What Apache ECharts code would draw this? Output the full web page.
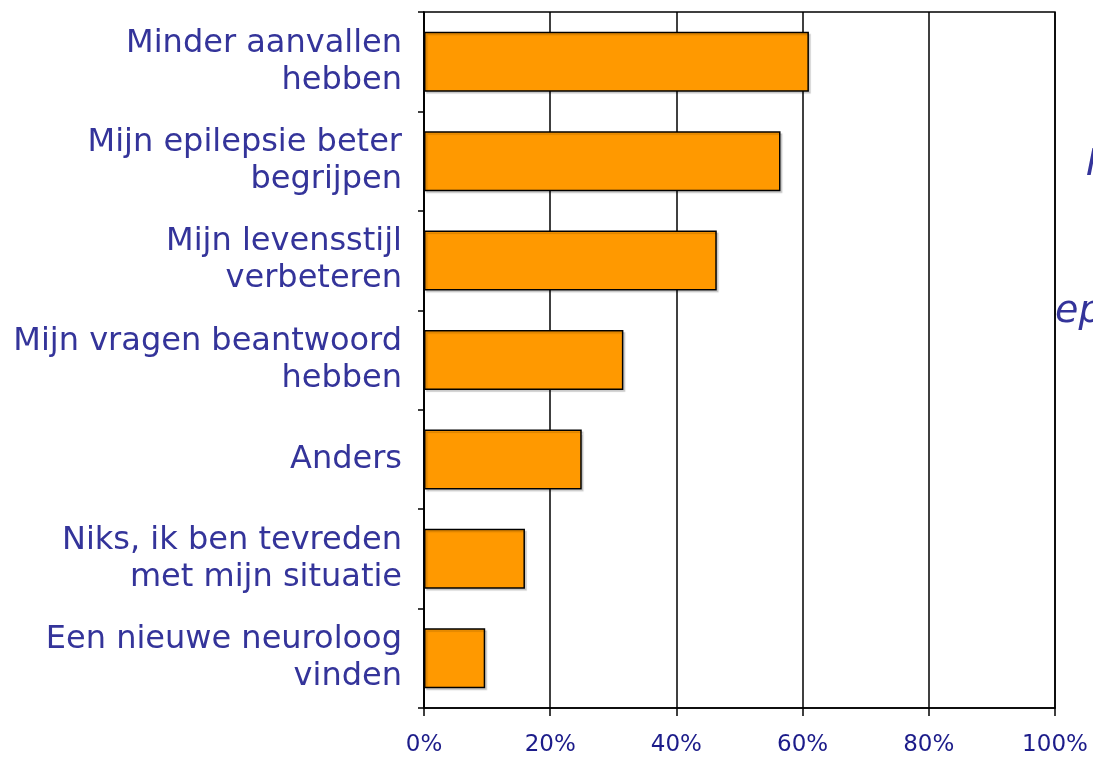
<!DOCTYPE html>
<html>
<head>
<meta charset="utf-8">
<script src="https://cdn.jsdelivr.net/npm/echarts@6/dist/echarts.min.js"></script>
<style>
html,body{margin:0;padding:0;background:#fff;}
#chart{width:1093px;height:757px;}
</style>
</head>
<body>
<div id="chart"></div>
<script>
const categories = [
  "Minder aanvallen\nhebben",
  "Mijn epilepsie beter\nbegrijpen",
  "Mijn levensstijl\nverbeteren",
  "Mijn vragen beantwoord\nhebben",
  "Anders",
  "Niks, ik ben tevreden\nmet mijn situatie",
  "Een nieuwe neuroloog\nvinden"
];
const values = [61, 56.5, 46.4, 31.6, 25, 16, 9.7];
const xTicks = [0, 20, 40, 60, 80, 100];

const chart = echarts.init(document.getElementById('chart'), null, {renderer: 'canvas'});
chart.setOption({
  animation: false,
  backgroundColor: '#ffffff',
  grid: {
    left: 424, right: 38, top: 12, bottom: 49,
    show: true, borderColor: '#000', borderWidth: 1.5, backgroundColor: 'transparent'
  },
  xAxis: {
    type: 'value', min: 0, max: 100, interval: 20,
    axisLine: {show: true, lineStyle: {color: '#000', width: 1.5}},
    axisTick: {show: true, length: 8, lineStyle: {color: '#000', width: 1.5}},
    splitLine: {show: true, lineStyle: {color: '#000', width: 1.5}},
    axisLabel: {
      margin: 26, fontFamily: 'DejaVu Sans', fontSize: 23, color: '#1c1c8a',
      formatter: v => xTicks.includes(v) ? v + '%' : ''
    }
  },
  yAxis: {
    type: 'category', data: categories, inverse: true,
    axisLine: {show: true, lineStyle: {color: '#000', width: 1.5}},
    axisTick: {show: true, length: 6, lineStyle: {color: '#000', width: 1.5}},
    splitLine: {show: false},
    axisLabel: {
      margin: 22, fontFamily: 'DejaVu Sans', fontSize: 32, lineHeight: 37,
      color: '#34349a', align: 'right'
    }
  },
  series: [{
    type: 'bar', data: values, barWidth: 60,
    itemStyle: {
      color: '#FF9900', borderColor: '#000', borderWidth: 1.5,
      shadowColor: 'rgba(0,0,0,0.15)', shadowOffsetX: 2, shadowOffsetY: 2, shadowBlur: 1
    }
  }],
  graphic: [
    {type: 'text', left: 1055, top: 293, silent: true,
     style: {text: 'epilepsie', font: 'italic 38px "DejaVu Sans"', fill: '#34349a'}},
    {type: 'text', left: 1086, top: 146, silent: true,
     style: {text: 'M', font: 'italic 38px "DejaVu Sans"', fill: '#34349a'}}
  ]
});
</script>
</body>
</html>
